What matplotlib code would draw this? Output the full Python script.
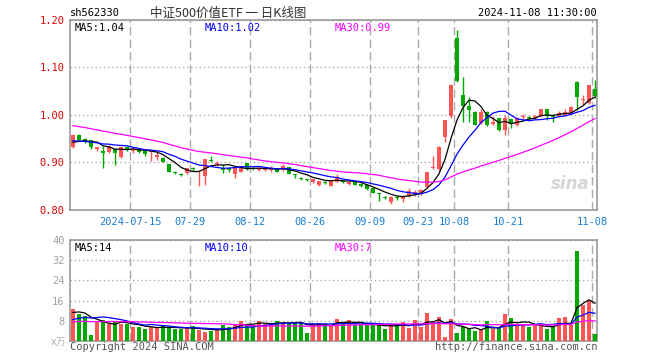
import numpy as np
import pandas as pd
import matplotlib
matplotlib.use("Agg")
import matplotlib.pyplot as plt

plt.rcParams['font.family'] = ['DejaVu Sans Mono', 'Noto Sans CJK SC']

# trading calendar
holidays = ["2024-09-16", "2024-09-17", "2024-10-01", "2024-10-02",
            "2024-10-03", "2024-10-04", "2024-10-07"]
days = pd.bdate_range("2024-07-01", "2024-11-08")
days = days[~days.isin(pd.to_datetime(holidays))]

opens = [0.933, 0.958, 0.950, 0.947, 0.928, 0.925, 0.923, 0.928, 0.912, 0.933,
         0.924, 0.928, 0.926, 0.922, 0.912, 0.910, 0.896, 0.881, 0.875, 0.877,
         0.888, 0.879, 0.872, 0.906, 0.896, 0.889, 0.888, 0.876, 0.881, 0.898,
         0.888, 0.885, 0.884, 0.884, 0.888, 0.884, 0.890, 0.875, 0.868, 0.864,
         0.858, 0.853, 0.860, 0.851, 0.859, 0.861, 0.855, 0.859, 0.855, 0.853,
         0.846, 0.835, 0.826, 0.816, 0.826, 0.823, 0.830, 0.833, 0.833, 0.849,
         0.888, 0.886, 0.954, 0.997, 1.163, 1.042, 1.019, 1.006, 0.984, 1.006,
         0.981, 0.993, 0.969, 0.991, 0.979, 0.995, 0.996, 0.993, 0.998, 1.012,
         0.998, 0.998, 1.000, 1.005, 1.070, 1.031, 1.025, 1.054]
highs = [0.961, 0.959, 0.952, 0.948, 0.933, 0.935, 0.937, 0.930, 0.935, 0.935,
         0.930, 0.929, 0.927, 0.925, 0.925, 0.912, 0.897, 0.883, 0.877, 0.889,
         0.891, 0.884, 0.908, 0.914, 0.903, 0.896, 0.890, 0.893, 0.893, 0.899,
         0.890, 0.889, 0.887, 0.893, 0.889, 0.896, 0.891, 0.876, 0.869, 0.865,
         0.866, 0.862, 0.861, 0.862, 0.875, 0.862, 0.861, 0.860, 0.856, 0.854,
         0.847, 0.836, 0.830, 0.829, 0.829, 0.831, 0.847, 0.843, 0.845, 0.881,
         0.914, 0.934, 0.990, 1.066, 1.178, 1.081, 1.037, 1.008, 1.013, 1.008,
         0.997, 0.994, 1.000, 0.992, 0.995, 1.003, 0.998, 1.000, 1.013, 1.013,
         1.000, 1.009, 1.012, 1.018, 1.071, 1.042, 1.064, 1.074]
lows = [0.931, 0.946, 0.941, 0.929, 0.925, 0.888, 0.920, 0.895, 0.910, 0.925,
        0.921, 0.921, 0.914, 0.903, 0.905, 0.900, 0.880, 0.876, 0.871, 0.875,
        0.883, 0.851, 0.853, 0.900, 0.892, 0.878, 0.880, 0.867, 0.879, 0.885,
        0.885, 0.883, 0.883, 0.879, 0.879, 0.882, 0.875, 0.868, 0.864, 0.862,
        0.856, 0.850, 0.855, 0.850, 0.858, 0.857, 0.853, 0.852, 0.848, 0.843,
        0.835, 0.818, 0.823, 0.813, 0.822, 0.816, 0.828, 0.830, 0.831, 0.846,
        0.886, 0.882, 0.944, 0.994, 1.070, 0.986, 0.986, 0.978, 0.982, 0.977,
        0.979, 0.967, 0.958, 0.972, 0.977, 0.990, 0.989, 0.991, 0.996, 0.990,
        0.985, 0.996, 0.998, 1.003, 1.011, 1.021, 1.023, 1.036]
closes = [0.958, 0.948, 0.945, 0.932, 0.932, 0.920, 0.935, 0.920, 0.933, 0.928,
          0.928, 0.923, 0.918, 0.924, 0.916, 0.902, 0.881, 0.877, 0.873, 0.888,
          0.886, 0.881, 0.907, 0.903, 0.898, 0.884, 0.885, 0.889, 0.891, 0.886,
          0.887, 0.888, 0.886, 0.888, 0.881, 0.893, 0.876, 0.873, 0.866, 0.863,
          0.865, 0.861, 0.857, 0.861, 0.870, 0.858, 0.859, 0.853, 0.851, 0.844,
          0.836, 0.833, 0.825, 0.828, 0.825, 0.830, 0.840, 0.838, 0.842, 0.879,
          0.889, 0.933, 0.989, 1.064, 1.072, 1.020, 1.011, 0.980, 1.006, 0.979,
          0.986, 0.969, 0.993, 0.982, 0.993, 0.998, 0.993, 0.998, 1.012, 0.998,
          0.995, 1.004, 1.007, 1.016, 1.037, 1.033, 1.063, 1.039]
volumes = [12.6, 10.6, 9.8, 2.3, 7.9, 8.2, 6.9, 7.8, 6.6, 6.9,
           5.6, 5.4, 4.9, 5.4, 5.3, 6.2, 5.4, 4.6, 4.6, 5.2,
           5.8, 4.5, 3.6, 3.8, 4.5, 6.2, 5.6, 6.6, 7.9, 6.6,
           6.5, 7.8, 6.6, 6.6, 7.8, 7.3, 7.3, 7.3, 7.3, 3.2,
           6.9, 7.3, 6.9, 6.2, 8.9, 7.3, 8.2, 6.2, 6.5, 6.2,
           6.2, 6.5, 4.9, 6.2, 6.5, 7.5, 5.2, 8.2, 5.4, 11.1,
           7.9, 9.5, 1.6, 8.9, 3.2, 5.6, 4.9, 3.8, 4.6, 7.9,
           4.6, 5.6, 10.6, 9.0, 6.2, 6.2, 5.4, 6.2, 6.5, 4.6,
           5.6, 9.0, 9.4, 6.2, 35.6, 14.2, 16.2, 2.6]

# sessions before the visible window (only feed the moving averages)
prev_closes = [1.010, 1.005, 1.002, 1.006, 0.998, 0.995, 1.000, 0.996, 0.994, 0.998,
               0.995, 0.992, 0.996, 0.990, 0.988, 0.993, 0.985, 0.980, 0.975, 0.970,
               0.955, 0.952, 0.948, 0.946, 0.943, 0.940, 0.938, 0.941, 0.937]
prev_volumes = [6.5, 7.0, 8.2, 6.8, 7.5, 6.0, 7.8, 8.5, 6.2, 7.0,
                7.4, 6.6, 8.0, 7.2, 6.9, 7.1, 7.6, 6.4, 7.3, 6.8,
                5.5, 6.2, 5.0, 6.0, 5.8, 9.5, 12.0, 10.4, 12.0]

tick_dates = ["2024-07-15", "2024-07-29", "2024-08-12", "2024-08-26", "2024-09-09",
              "2024-09-23", "2024-10-08", "2024-10-21", "2024-11-08"]
price_ticks = [0.80, 0.90, 1.00, 1.10, 1.20]
vol_ticks = [8, 16, 24, 32, 40]
ma_periods = [5, 10, 30]

RED = "#ff5555"
GREEN = "#00a800"
MA_COLORS = ["black", "#0000ff", "#ff00ff"]
GRID = "#aaaaaa"
FRAME = "#999999"

n = len(closes)
x = np.arange(n)
o = np.array(opens); h = np.array(highs); l = np.array(lows); c = np.array(closes)
up = c >= o
colors = [RED if u else GREEN for u in up]

all_c = pd.Series(prev_closes + closes)
all_v = pd.Series(prev_volumes + volumes)
price_ma = [all_c.rolling(p).mean().values[-n:] for p in ma_periods]
vol_ma = [all_v.rolling(p).mean().values[-n:] for p in ma_periods]

W, H = 660, 360
fig = plt.figure(figsize=(6.6, 3.6), dpi=100)
fig.patch.set_facecolor("white")

def px(x0, y0, w, h):
    return [x0 / W, 1 - (y0 + h) / H, w / W, h / H]

ax = fig.add_axes(px(70, 20, 527, 190))
axv = fig.add_axes(px(70, 240, 527, 101))

tick_pos = [days.get_loc(pd.Timestamp(d)) - 0.5 for d in tick_dates]
tick_lab = [tick_dates[0]] + [d[5:] for d in tick_dates[1:]]

for a in (ax, axv):
    a.set_xlim(-0.5, -0.5 + 527 / 6)
    for s in a.spines.values():
        s.set_color(FRAME)
        s.set_linewidth(1.2)
    a.set_xticks(tick_pos)
    a.tick_params(length=0)
    a.xaxis.grid(True, color=GRID, linestyle=(0, (6, 3)), linewidth=1)
    a.yaxis.grid(True, color=GRID, linestyle=(0, (1, 2)), linewidth=1)
    a.set_axisbelow(True)

# price panel
ax.set_ylim(0.80, 1.20)
ax.set_yticks(price_ticks)
ax.set_yticklabels(["%.2f" % t for t in price_ticks])
ax.tick_params(axis="y", labelcolor="#e00000", labelsize=7.5, pad=4)
ax.set_xticklabels(tick_lab)
ax.tick_params(axis="x", labelcolor="#1a7fd4", labelsize=7.5, pad=5)

ax.vlines(x, l, h, colors=colors, linewidth=1, zorder=2)
body = np.maximum(np.abs(c - o), 0.0015)
ax.bar(x, body, bottom=np.minimum(o, c), width=0.82, color=colors,
       linewidth=0, zorder=3)
for ma, col in zip(price_ma, MA_COLORS):
    ax.plot(x, ma, color=col, linewidth=0.9, zorder=4)

ax.text(0.008, 0.985, "MA5:%.2f" % price_ma[0][-1], transform=ax.transAxes,
        color=MA_COLORS[0], fontsize=7.5, va="top")
ax.text(0.255, 0.985, "MA10:%.2f" % price_ma[1][-1], transform=ax.transAxes,
        color=MA_COLORS[1], fontsize=7.5, va="top")
ax.text(0.502, 0.985, "MA30:%.2f" % price_ma[2][-1], transform=ax.transAxes,
        color=MA_COLORS[2], fontsize=7.5, va="top")
ax.text(0.985, 0.09, "sina", transform=ax.transAxes, ha="right", va="bottom",
        color="#d6d6d6", fontsize=12, fontweight="bold", style="italic",
        family="DejaVu Sans", zorder=1)

# volume panel
axv.set_ylim(0, 40)
axv.set_yticks(vol_ticks)
axv.set_yticklabels([str(t) for t in vol_ticks])
axv.tick_params(axis="y", labelcolor="#a0a0a0", labelsize=7.5, pad=4)
axv.set_xticklabels([])
axv.bar(x, volumes, width=0.82, color=colors, linewidth=0, zorder=3)
for ma, col in zip(vol_ma, MA_COLORS):
    axv.plot(x, ma, color=col, linewidth=0.9, zorder=4)

axv.text(0.008, 0.97, "MA5:%d" % int(vol_ma[0][-1]), transform=axv.transAxes,
         color=MA_COLORS[0], fontsize=7.5, va="top")
axv.text(0.255, 0.97, "MA10:%d" % int(vol_ma[1][-1]), transform=axv.transAxes,
         color=MA_COLORS[1], fontsize=7.5, va="top")
axv.text(0.502, 0.97, "MA30:%d" % int(vol_ma[2][-1]), transform=axv.transAxes,
         color=MA_COLORS[2], fontsize=7.5, va="top")

# header / footer texts
fig.text(70 / W, 1 - 13 / H, "sh562330", fontsize=7.5, va="center", ha="left")
fig.text(150 / W, 1 - 13 / H, "中证500价值ETF 一 日K线图", fontsize=9,
         va="center", ha="left", color="#333333", family=["Noto Sans CJK SC"])
fig.text(597 / W, 1 - 13 / H, "2024-11-08 11:30:00", fontsize=7.5,
         va="center", ha="right")
fig.text(66 / W, 1 - 342 / H, "x万", fontsize=7, va="center", ha="right",
         color="#b0b0b0", family=["DejaVu Sans", "Noto Sans CJK SC"])
fig.text(70 / W, 1 - 347 / H, "Copyright 2024 SINA.COM", fontsize=7.5,
         va="center", ha="left", color="#555555")
fig.text(597 / W, 1 - 347 / H, "http://finance.sina.com.cn", fontsize=7.5,
         va="center", ha="right", color="#555555")

fig.savefig("out.png", dpi=100)
